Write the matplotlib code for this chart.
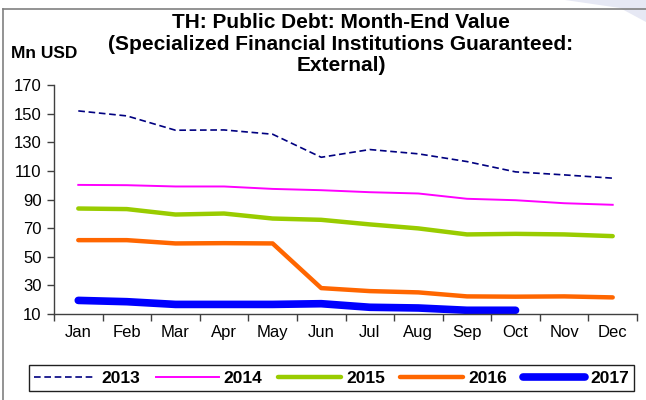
#!/usr/bin/env python3

import numpy as np
import matplotlib as mpl
import matplotlib.pyplot as plt
from matplotlib.lines import Line2D
from matplotlib.patches import Polygon

# Data

months = ["Jan", "Feb", "Mar", "Apr", "May", "Jun",
          "Jul", "Aug", "Sep", "Oct", "Nov", "Dec"]

y2013 = [151.9, 148.4, 138.4, 138.6, 135.6, 119.5, 124.9, 121.9, 116.5, 109.3, 107.2, 104.9]
y2014 = [100.2, 100.0, 99.1, 99.1, 97.4, 96.5, 95.1, 94.2, 90.5, 89.5, 87.4, 86.3]
y2015 = [83.7, 83.3, 79.5, 80.2, 76.7, 75.8, 72.6, 69.8, 65.6, 66.0, 65.6, 64.4]
y2016 = [61.6, 61.6, 59.3, 59.5, 59.3, 28.1, 26.0, 25.1, 22.3, 22.1, 22.3, 21.6]
y2017 = [19.5, 18.6, 16.7, 16.7, 16.7, 17.2, 14.7, 14.2, 12.6, 12.6]

yticks = [10, 30, 50, 70, 90, 110, 130, 150, 170]

# Formatting

mpl.rcParams['font.family'] = 'Liberation Sans'

W, H = 646, 400
fig = plt.figure(figsize=(W/100, H/100), dpi=100)
ax = fig.add_axes([54/W, 1 - 314/H, 583/W, 229/H])

x = np.arange(len(months))

ax.plot(x, y2013, color='#000080', lw=1.2, ls=(0, (4, 2.2)), label='2013')
ax.plot(x, y2014, color='#FF00FF', lw=1.4, label='2014')
ax.plot(x, y2015, color='#99CC00', lw=3.2, solid_capstyle='round', label='2015')
ax.plot(x, y2016, color='#FF6600', lw=3.2, solid_capstyle='round', label='2016')
ax.plot(x[:len(y2017)], y2017, color='#0000FF', lw=5.5,
        solid_capstyle='round', label='2017')

ax.set_xlim(-0.5, len(months) - 0.5)
ax.set_ylim(10, 170)
ax.set_yticks(yticks)
ax.set_xticks(x)
ax.set_xticklabels(months)
ax.set_xticks(np.arange(-0.5, len(months)), minor=True)

ax.tick_params(axis='x', which='major', length=0, pad=8, labelsize=12)
ax.tick_params(axis='x', which='minor', length=5, width=1, color='#404040',
               direction='out')
ax.tick_params(axis='y', length=5, width=1, color='#404040', pad=4,
               labelsize=12)

for side in ['top', 'right']:
    ax.spines[side].set_visible(False)
for side in ['left', 'bottom']:
    ax.spines[side].set_color('#404040')
    ax.spines[side].set_linewidth(1)

# Titles

fig.text(341/W, 1 - 44/H,
         "TH: Public Debt: Month-End Value\n"
         "(Specialized Financial Institutions Guaranteed:\nExternal)",
         ha='center', va='center', fontsize=15, fontweight='bold',
         linespacing=1.15)
fig.text(11/W, 1 - 53/H, "Mn USD", ha='left', va='center',
         fontsize=12.5, fontweight='bold')

# Frame decoration

fig.add_artist(Line2D([3/W, 3/W], [0, 1 - 9/H], transform=fig.transFigure,
                      color='#808080', lw=1.2))
fig.add_artist(Line2D([3/W, 1], [1 - 9/H, 1 - 9/H], transform=fig.transFigure,
                      color='#808080', lw=1.2))
fig.add_artist(Polygon([[565/W, 1], [1, 1], [1, 1 - 22/H], [620/W, 1 - 8/H]],
                       closed=True, transform=fig.transFigure,
                       facecolor='#E6E8F4', edgecolor='none', zorder=0))

# Legend

leg = fig.legend(loc='center', ncol=5, mode='expand',
                 bbox_to_anchor=(20/W, 1 - 391/H, 623/W, 26/H),
                 prop={'size': 12.5, 'weight': 'bold'},
                 handlelength=3.6, handletextpad=0.3, columnspacing=0.7,
                 borderpad=0.3, fancybox=False, framealpha=1)
leg.get_frame().set_edgecolor('#202020')
leg.get_frame().set_linewidth(1)

fig.savefig('out.png', dpi=100)
